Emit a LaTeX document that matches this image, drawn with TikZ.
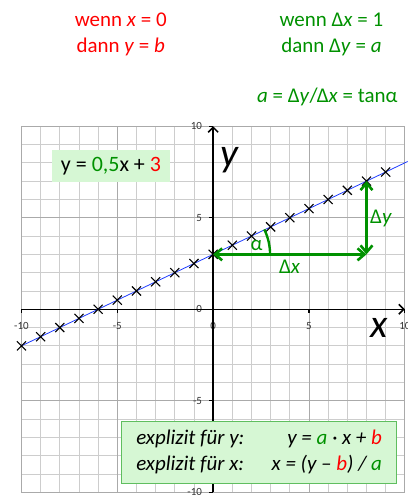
\documentclass[tikz,border=0pt]{standalone}
\usepackage{fontspec}
\setmainfont{Carlito}
\usetikzlibrary{arrows.meta,shapes.misc}
\definecolor{verde}{RGB}{0,145,0}
\definecolor{rojo}{RGB}{255,0,0}
\definecolor{azul}{RGB}{30,60,255}
\definecolor{rejilla}{RGB}{205,205,205}
\definecolor{rejillaf}{RGB}{170,170,170}
\definecolor{fondo}{RGB}{214,247,212}
\definecolor{borde}{RGB}{95,190,95}
\begin{document}
\begin{tikzpicture}
  [x=19.2pt,y=18.33pt,every node/.style={inner sep=0pt},
   eje/.style={line width=1.5pt,-{Straight Barb[length=5pt,width=10pt]}},
   marca/.style={line width=1.2pt},
   flecha/.style={verde,line width=2.6pt,{Straight Barb[length=7pt,width=12pt]}-{Straight Barb[length=7pt,width=12pt]}},
   cruz/.style={cross out,draw=black,line width=1.1pt,minimum size=8pt},
   num/.style={font=\fontsize{11}{13}\selectfont,text=black!80},
   texto/.style={font=\fontsize{21}{26}\selectfont,align=center},
   caja/.style={fill=fondo}]
\useasboundingbox (-11.12,-10.15) rectangle (10.13,16.9);

% rejilla
\draw[rejilla,line width=0.8pt,step=1] (-10,-10) grid (10,10);
\draw[rejillaf,line width=0.9pt,step=5] (-10,-10) grid (10,10);

% ejes
\coordinate (xa) at (-10,0);
\coordinate (xb) at (10,0);
\coordinate (ya) at (0,-10);
\coordinate (yb) at (0,10);
\foreach \t in {-10,-5,0,5,10} {
  \draw[marca] (\t,0) -- ++(0pt,-4pt);
  \draw[marca] (0,\t) -- ++(-4pt,0pt);
  \node[num] (nx\t) at (\t,0) [yshift=-16.5pt] {\t};
  \node[num,anchor=east] (ny\t) at (0,\t) [xshift=-11pt] {\t};
}
\draw[eje] (xa) -- (xb);
\draw[eje] (ya) -- (yb);
\node[font=\fontsize{40}{42}\selectfont\itshape] (ly) at (0.86,8.16) {y};
\node[font=\fontsize{40}{42}\selectfont\itshape] (lx) at (8.67,-1.02) {x};

% recta y = 0,5x + 3
\draw[azul,line width=0.8pt] (-10,-2) -- (10.15,8.075);
\foreach \i in {-10,...,9}
  \node[cruz] (k\i) at (\i,{0.5*\i+3}) {};

% triangulo de pendiente
\coordinate (P) at (0,3);
\coordinate (Q) at (8,3);
\coordinate (R) at (8,7);
\draw[flecha] (P) -- (Q);
\draw[flecha] (Q) -- (R);
\draw[verde,line width=2.4pt] ([xshift=57pt]P) arc[start angle=0,end angle=26,radius=57pt];
\node[texto,text=verde] (alfa) at (2.27,3.51) {α};
\node[texto,text=verde] (dx) at (3.99,2.31) {Δ\textit{x}};
\node[texto,text=verde] (dy) at (8.76,4.95) {Δ\textit{y}};

% textos de arriba
\node[texto,text=rojo] (wenn1) at (-4.82,15.0) {wenn \textit{x} = 0\\dann \textit{y} = \textit{b}};
\node[texto,text=verde] (wenn2) at (6.17,15.0) {wenn Δ\textit{x} = 1\\dann Δ\textit{y} = \textit{a}};
\node[texto,text=verde] (tan) at (5.96,11.61) {\textit{a} = Δ\textit{y}/Δ\textit{x} = tanα};

% cajas
\node[caja,font=\fontsize{22}{26}\selectfont,minimum width=119pt,minimum height=32pt] (func) at (-5.33,7.83)
  {y = \textcolor{verde}{0,5}x + \textcolor{rojo}{3}};
\node[caja,draw=borde,line width=1pt,minimum width=276pt,minimum height=61.5pt,
  font=\fontsize{21}{26}\selectfont\itshape] (expl) at (2.4,-7.83)
  {\begin{tabular*}{246pt}{@{}l@{\extracolsep{\fill}}r@{}}
   explizit für y: & y = \textcolor{verde}{a} · x + \textcolor{rojo}{b}\\
   explizit für x: & x = (y – \textcolor{rojo}{b}) / \textcolor{verde}{a}
   \end{tabular*}};
\end{tikzpicture}
\end{document}
